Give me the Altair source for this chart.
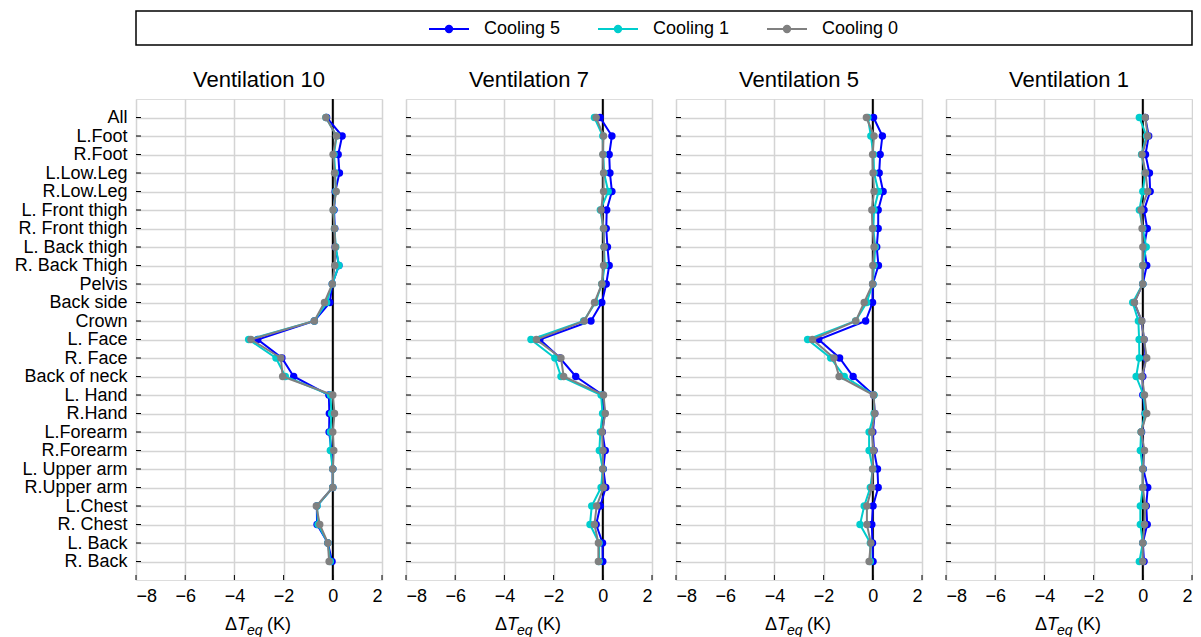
import altair as alt
import pandas as pd

parts = ["All", "L.Foot", "R.Foot", "L.Low.Leg", "R.Low.Leg", "L. Front thigh",
         "R. Front thigh", "L. Back thigh", "R. Back Thigh", "Pelvis", "Back side",
         "Crown", "L. Face", "R. Face", "Back of neck", "L. Hand", "R.Hand",
         "L.Forearm", "R.Forearm", "L. Upper arm", "R.Upper arm", "L.Chest",
         "R. Chest", "L. Back", "R. Back"]
panels = ["Ventilation 10", "Ventilation 7", "Ventilation 5", "Ventilation 1"]
series = ["Cooling 5", "Cooling 1", "Cooling 0"]
colors = ["#0000ff", "#00cdcd", "#808080"]
x_ticks = [-8, -6, -4, -2, 0, 2]

v10_c5 = [-0.25, 0.38, 0.22, 0.27, 0.10, 0.05, 0.08, 0.10, 0.25, -0.02, -0.12, -0.75, -3.05,
          -2.07, -1.59, -0.16, -0.14, -0.15, -0.05, 0.00, 0.00, -0.65, -0.64, -0.20, -0.03]
v10_c1 = [-0.28, 0.15, 0.05, 0.10, 0.12, 0.03, 0.07, 0.12, 0.25, -0.02, -0.25, -0.75, -3.42,
          -2.31, -1.93, -0.10, -0.05, -0.10, -0.10, 0.00, 0.00, -0.64, -0.60, -0.20, -0.10]
v10_c0 = [-0.28, 0.15, 0.01, 0.07, 0.14, 0.01, 0.07, 0.10, 0.08, -0.02, -0.34, -0.75, -3.33,
          -2.11, -2.04, 0.00, 0.07, 0.00, 0.04, 0.00, 0.00, -0.67, -0.53, -0.20, -0.15]

v7_c5 = [-0.11, 0.37, 0.26, 0.29, 0.37, 0.16, 0.14, 0.19, 0.26, 0.14, -0.04, -0.48, -2.56,
         -1.74, -1.10, 0.00, 0.08, -0.02, 0.10, 0.02, 0.12, -0.10, -0.27, -0.01, 0.00]
v7_c1 = [-0.34, 0.00, 0.02, 0.05, 0.22, -0.10, 0.03, 0.05, 0.08, -0.04, -0.30, -0.78, -2.92,
         -1.95, -1.70, -0.07, -0.01, -0.10, -0.14, 0.00, -0.07, -0.45, -0.52, -0.15, -0.15]
v7_c0 = [-0.27, 0.03, 0.00, 0.03, 0.03, -0.07, 0.03, 0.05, 0.03, -0.04, -0.34, -0.75, -2.70,
         -1.70, -1.59, 0.03, 0.10, -0.03, 0.01, 0.00, 0.03, -0.25, -0.34, -0.18, -0.18]

v5_c5 = [0.03, 0.39, 0.30, 0.26, 0.42, 0.22, 0.22, 0.16, 0.23, 0.00, -0.01, -0.29, -2.20,
         -1.35, -0.80, 0.03, 0.08, 0.00, 0.05, 0.19, 0.22, 0.01, -0.04, -0.01, 0.01]
v5_c1 = [-0.20, -0.08, 0.03, 0.05, 0.23, 0.05, 0.02, 0.10, 0.05, 0.00, -0.25, -0.70, -2.65,
         -1.71, -1.16, 0.05, 0.05, -0.15, -0.15, 0.00, -0.10, -0.35, -0.52, -0.10, -0.10]
v5_c0 = [-0.26, 0.05, -0.01, 0.01, 0.05, -0.04, -0.01, 0.05, 0.00, -0.01, -0.35, -0.69, -2.45,
         -1.58, -1.37, 0.03, 0.08, -0.04, 0.03, -0.01, -0.04, -0.24, -0.24, -0.08, -0.15]

v1_c5 = [0.10, 0.24, 0.11, 0.27, 0.30, 0.05, 0.18, 0.05, 0.16, 0.00, -0.35, -0.05, 0.05,
         0.12, 0.00, 0.00, 0.10, -0.05, 0.03, 0.02, 0.20, 0.14, 0.18, 0.00, 0.05]
v1_c1 = [-0.14, 0.15, -0.05, 0.10, 0.00, -0.14, 0.00, 0.14, 0.00, 0.00, -0.41, -0.18, -0.15,
         -0.14, -0.27, 0.03, 0.10, -0.07, -0.10, 0.00, 0.00, -0.10, -0.10, 0.00, -0.14]
v1_c0 = [0.10, 0.20, -0.03, 0.11, 0.20, -0.07, -0.03, 0.00, 0.00, 0.00, -0.34, -0.04, 0.05,
         0.16, -0.04, 0.07, 0.16, -0.07, 0.07, 0.00, 0.00, 0.10, 0.07, 0.00, 0.00]

values = {
    "Ventilation 10": [v10_c5, v10_c1, v10_c0],
    "Ventilation 7": [v7_c5, v7_c1, v7_c0],
    "Ventilation 5": [v5_c5, v5_c1, v5_c0],
    "Ventilation 1": [v1_c5, v1_c1, v1_c0],
}

rows = []
for p in panels:
    for s, vals in zip(series, values[p]):
        for i, (part, v) in enumerate(zip(parts, vals)):
            rows.append({"panel": p, "series": s, "part": part, "idx": i, "dT": v})
df = pd.DataFrame(rows)
tick_df = pd.DataFrame({"v": x_ticks})
part_df = pd.DataFrame({"part": parts})
zero_df = pd.DataFrame({"z": [0]})
one_df = pd.DataFrame({"k": [0]})

W, H = 246, 481
FONT = "Liberation Sans"
GRID = "#d4d4d4"

sym_path = ("M-1,0L1,0M-0.16,0A0.16,0.16 0 1,0 0.16,0"
            "A0.16,0.16 0 1,0 -0.16,0Z")
legend = alt.Legend(title=None, orient="none", legendX=292, legendY=-3,
                    direction="horizontal", symbolType=sym_path, symbolSize=1600,
                    symbolStrokeWidth=2, labelFontSize=18, labelFont=FONT,
                    labelColor="black", labelOffset=14, columnPadding=33, padding=0)
stroke_enc = alt.Stroke("series:N", scale=alt.Scale(domain=series, range=colors), legend=legend)
fill_enc = alt.Fill("series:N", scale=alt.Scale(domain=series, range=colors), legend=legend)


def make_panel(name, first):
    d = df[df["panel"] == name]
    yscale = alt.Scale(type="point", domain=parts, padding=1.15)
    yaxis = alt.Axis(title=None, labels=first, ticks=False, domain=False, grid=True,
                     gridColor=GRID, gridWidth=1.5, labelFontSize=18, labelFont=FONT,
                     labelColor="black", labelPadding=9,
                     minExtent=127 if first else 0, maxExtent=127 if first else 0)
    xscale = alt.Scale(domain=[-8, 2], nice=False, zero=False)
    xaxis = alt.Axis(title=None, values=x_ticks, ticks=False, domain=False, grid=True,
                     gridColor=GRID, gridWidth=1.5, labelFontSize=18, labelFont=FONT,
                     labelColor="black", labelPadding=7, format="d")

    y = alt.Y("part:N", scale=yscale, axis=yaxis)
    x = alt.X("dT:Q", scale=xscale, axis=xaxis)

    layers = []
    zero = alt.Chart(zero_df).mark_rule(color="black", strokeWidth=2).encode(
        x=alt.X("z:Q", scale=xscale, axis=xaxis))
    layers.append(zero)
    yt = alt.Chart(part_df).mark_rule(color="black", strokeWidth=1).encode(
        y=alt.Y("part:N", scale=yscale, axis=yaxis), x=alt.value(0), x2=alt.value(5))
    xt = alt.Chart(tick_df).mark_rule(color="black", strokeWidth=1).encode(
        x=alt.X("v:Q", scale=xscale, axis=xaxis), y=alt.value(H), y2=alt.value(H - 5))
    layers += [yt, xt]

    for s in series:
        ds = d[d["series"] == s]
        ln = alt.Chart(ds).mark_line(strokeWidth=2).encode(
            x=x, y=y, order=alt.Order("idx:Q"), stroke=stroke_enc)
        pt = alt.Chart(ds).mark_circle(size=55, opacity=1).encode(
            x=x, y=y, fill=fill_enc)
        layers += [ln, pt]

    # axis title: ΔT_eq (K)
    tx = dict(baseline="middle", align="left", font=FONT, color="black")
    t1 = alt.Chart(one_df).mark_text(fontSize=18, **tx).encode(
        x=alt.value(89), y=alt.value(H + 45), text=alt.value("Δ"))
    t2 = alt.Chart(one_df).mark_text(fontSize=18, fontStyle="italic", **tx).encode(
        x=alt.value(101), y=alt.value(H + 45), text=alt.value("T"))
    t3 = alt.Chart(one_df).mark_text(fontSize=14, fontStyle="italic", **tx).encode(
        x=alt.value(111), y=alt.value(H + 51), text=alt.value("eq"))
    t4 = alt.Chart(one_df).mark_text(fontSize=18, **tx).encode(
        x=alt.value(131), y=alt.value(H + 45), text=alt.value("(K)"))
    layers += [t1, t2, t3, t4]

    return alt.layer(*layers).properties(
        width=W, height=H,
        title=alt.Title(name, fontSize=22, font=FONT, fontWeight="normal", color="black",
                        anchor="middle", baseline="alphabetic", offset=-11))


row = alt.hconcat(*[make_panel(p, i == 0) for i, p in enumerate(panels)],
                  spacing=24, bounds="flush")

box = alt.Chart(one_df).mark_point(opacity=0).encode(
    y=alt.Y("k:N", axis=alt.Axis(title=None, labels=True, labelOpacity=0, ticks=False,
                                 domain=False, grid=False, minExtent=127, maxExtent=127))
).properties(width=1056, height=34,
             view=alt.ViewBackground(stroke="black", strokeWidth=1.5))

chart = alt.vconcat(box, row, spacing=22).properties(padding=0).configure_view(
    stroke="black", strokeWidth=1.2
).configure(font=FONT)

chart.save("out.html", embed_options={"renderer": "svg", "actions": False})
